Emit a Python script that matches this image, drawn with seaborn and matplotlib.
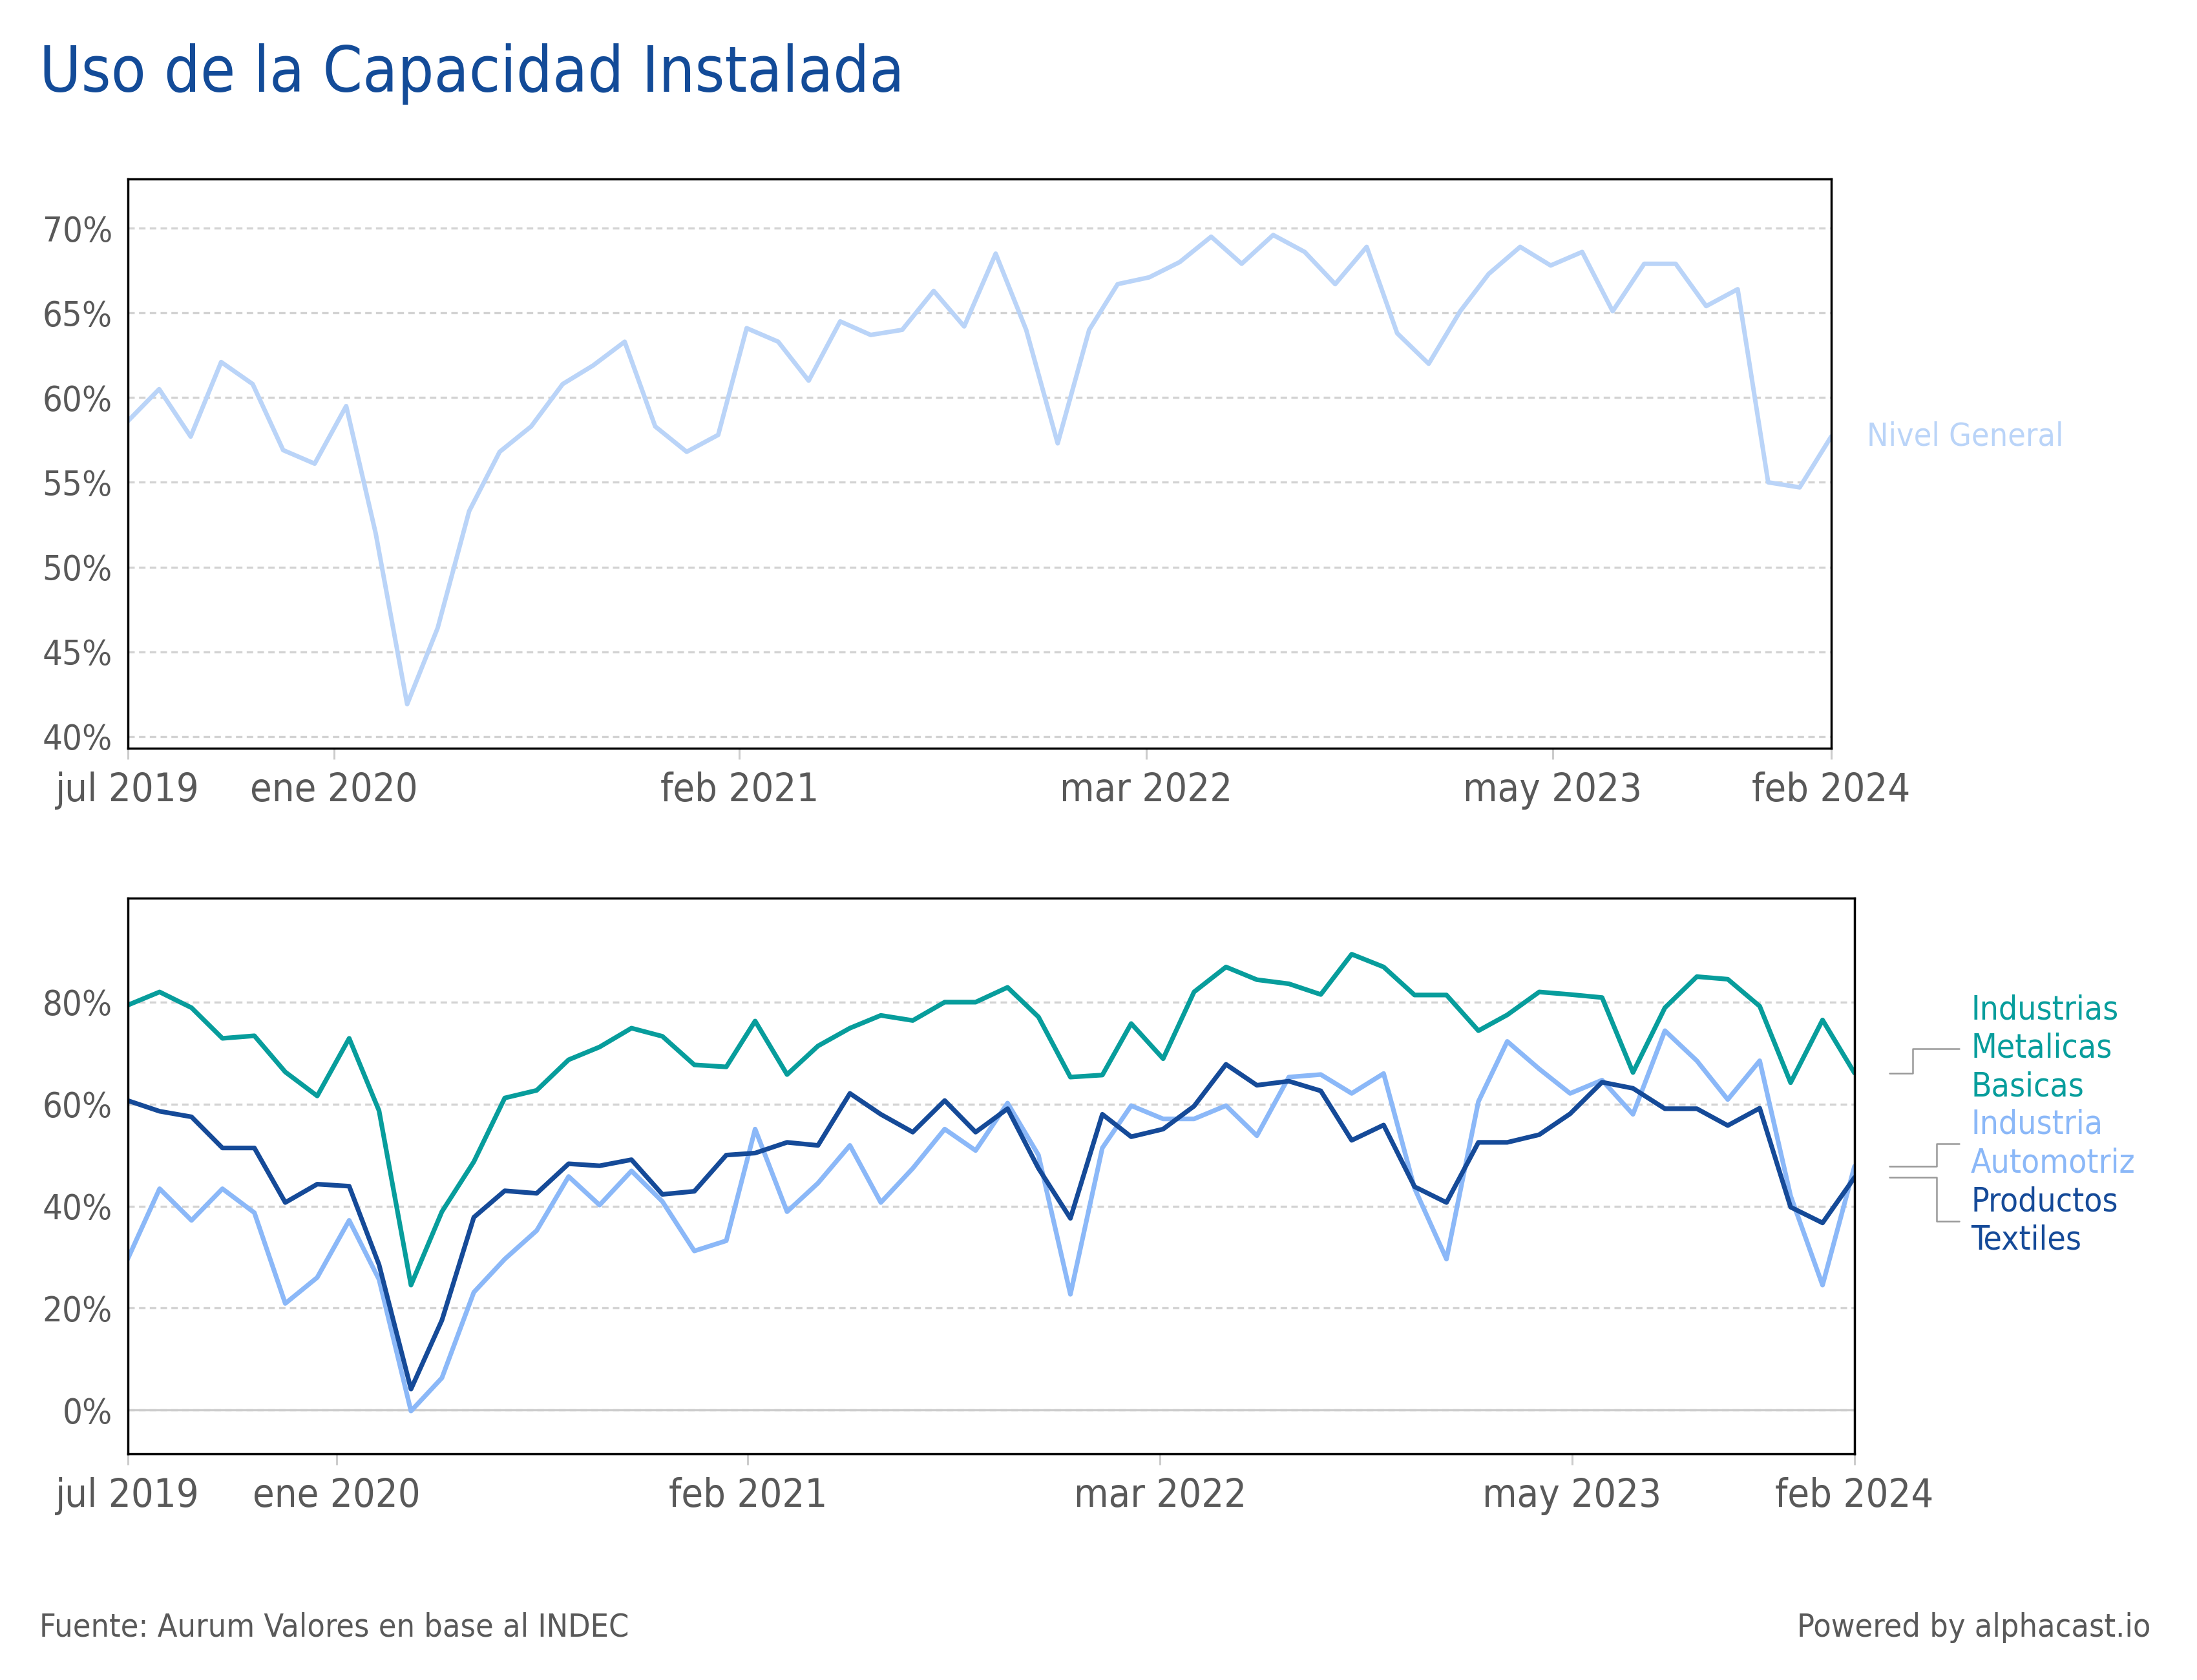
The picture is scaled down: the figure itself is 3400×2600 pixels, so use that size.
import numpy as np
import pandas as pd
import matplotlib
matplotlib.use("Agg")
import matplotlib.pyplot as plt
import matplotlib.transforms as mtransforms
import seaborn as sns

# Data ######################################################################

meses = pd.date_range("2019-07-01", "2024-02-01", freq="MS")

nivel_general = [58.6, 60.5, 57.7, 62.1, 60.8, 56.9, 56.1, 59.5, 52.0, 41.9,
                 46.4, 53.3, 56.8, 58.3, 60.8, 61.9, 63.3, 58.3, 56.8, 57.8,
                 64.1, 63.3, 61.0, 64.5, 63.7, 64.0, 66.3, 64.2, 68.5, 64.0,
                 57.3, 64.0, 66.7, 67.1, 68.0, 69.5, 67.9, 69.6, 68.6, 66.7,
                 68.9, 63.8, 62.0, 65.1, 67.3, 68.9, 67.8, 68.6, 65.1, 67.9,
                 67.9, 65.4, 66.4, 55.0, 54.7, 57.7]

metalicas = [79.4, 82.0, 78.9, 72.9, 73.4, 66.3, 61.6, 72.9, 58.7, 24.5,
             38.9, 48.7, 61.2, 62.7, 68.7, 71.2, 74.9, 73.3, 67.7, 67.3,
             76.3, 65.8, 71.4, 74.9, 77.4, 76.4, 80.0, 80.0, 82.9, 77.1,
             65.3, 65.7, 75.8, 68.9, 82.0, 86.9, 84.4, 83.6, 81.5, 89.4,
             86.9, 81.4, 81.4, 74.4, 77.5, 82.0, 81.5, 80.9, 66.2, 78.9,
             85.0, 84.5, 79.2, 64.2, 76.5, 66.1]

automotriz = [29.6, 43.4, 37.2, 43.4, 38.7, 20.9, 26.0, 37.2, 25.6, -0.2,
              6.3, 23.1, 29.6, 35.2, 45.8, 40.2, 46.9, 40.9, 31.2, 33.2,
              55.1, 38.9, 44.5, 51.9, 40.7, 47.4, 55.1, 50.9, 60.2, 50.0,
              22.7, 51.4, 59.7, 57.1, 57.1, 59.7, 53.8, 65.3, 65.8, 62.1,
              66.0, 43.5, 29.6, 60.5, 72.3, 66.9, 62.1, 64.7, 58.0, 74.4,
              68.5, 60.9, 68.5, 42.0, 24.5, 47.8]

textiles = [60.7, 58.6, 57.5, 51.4, 51.4, 40.7, 44.3, 43.9, 28.5, 4.1,
            17.6, 37.8, 43.0, 42.5, 48.3, 47.9, 49.1, 42.3, 42.9, 50.0,
            50.4, 52.5, 51.9, 62.1, 58.0, 54.5, 60.7, 54.5, 59.1, 47.4,
            37.6, 58.0, 53.6, 55.1, 59.6, 67.8, 63.7, 64.5, 62.6, 52.9,
            55.9, 43.8, 40.7, 52.5, 52.5, 54.0, 58.1, 64.3, 63.1, 59.1,
            59.1, 55.8, 59.2, 39.8, 36.7, 45.6]

series = ["Industrias Metalicas Basicas", "Industria Automotriz", "Productos Textiles"]

tick_fechas = pd.to_datetime(["2019-07-01", "2020-01-20", "2021-02-22",
                              "2022-03-29", "2023-05-03", "2024-02-01"])
tick_labels = ["jul 2019", "ene 2020", "feb 2021", "mar 2022", "may 2023", "feb 2024"]

yticks_top = [40, 45, 50, 55, 60, 65, 70]
yticks_bottom = [0, 20, 40, 60, 80]

# Style #####################################################################

C_TOP = "#bad4f8"
palette = {series[0]: "#079d9c", series[1]: "#8bb8f8", series[2]: "#154a98"}
GRAY = "#595959"
GRID = "#d3d3d3"

sns.set_theme(style="white")
plt.rcParams["font.family"] = ["DejaVu Sans"]
plt.rcParams["font.stretch"] = "condensed"

fig = plt.figure(figsize=(17, 13), dpi=200)
ax1 = fig.add_axes([0.0581, 0.5546, 0.7754, 0.3388])
ax2 = fig.add_axes([0.0581, 0.1346, 0.7860, 0.3308])

# Top panel: Nivel General
top = pd.DataFrame({"fecha": meses, "valor": nivel_general})
sns.lineplot(data=top, x="fecha", y="valor", color=C_TOP, linewidth=2.5, ax=ax1)

# Bottom panel: three sectors
bottom = pd.DataFrame({
    "fecha": np.tile(meses, 3),
    "serie": np.repeat(series, len(meses)),
    "valor": metalicas + automotriz + textiles,
})
sns.lineplot(data=bottom, x="fecha", y="valor", hue="serie", hue_order=series,
             palette=palette, linewidth=2.6, ax=ax2, legend=False)

for ax, yt, ylim in [(ax1, yticks_top, (39.3, 72.9)), (ax2, yticks_bottom, (-8.6, 100.4))]:
    ax.set_xlim(meses[0], meses[-1])
    ax.set_ylim(*ylim)
    ax.set_yticks(yt)
    ax.set_yticklabels([f"{v}%" for v in yt])
    ax.set_xticks(tick_fechas)
    ax.set_xticklabels(tick_labels)
    ax.set_xlabel("")
    ax.set_ylabel("")
    ax.grid(axis="y", color=GRID, lw=1.2, linestyle=(0, (3, 2)))
    ax.grid(axis="x", visible=False)
    ax.set_axisbelow(True)
    for s in ax.spines.values():
        s.set_color("black")
        s.set_linewidth(1.25)
    ax.tick_params(axis="x", length=6, width=1.1, color="#cccccc", direction="out",
                   pad=7, labelsize=22, labelcolor=GRAY, bottom=True)
    ax.tick_params(axis="y", length=0, pad=8.5, labelsize=19.5, labelcolor=GRAY)

ax2.axhline(0, color="#cccccc", lw=1.2, zorder=1)

# Direct labels ##############################################################

ax1.text(1.0209, nivel_general[-1], "Nivel General", color=C_TOP, fontsize=18,
         va="center", ha="left", transform=mtransforms.blended_transform_factory(
             ax1.transAxes, ax1.transData))

trans2 = mtransforms.blended_transform_factory(ax2.transAxes, ax2.transData)
etiquetas = [
    (["Industrias", "Metalicas", "Basicas"], metalicas[-1], 70.9, 1.0337, palette[series[0]]),
    (["Industria", "Automotriz"], automotriz[-1], 52.2, 1.0475, palette[series[1]]),
    (["Productos", "Textiles"], textiles[-1], 37.0, 1.0475, palette[series[2]]),
]
line_h = 21.4  # points between label lines
for lineas, v_last, y_lab, x_mid, col in etiquetas:
    ax2.plot([1.0204, x_mid, x_mid, 1.0608], [v_last, v_last, y_lab, y_lab],
             transform=trans2, clip_on=False, color="#999999", lw=0.9)
    n = len(lineas)
    for i, t in enumerate(lineas):
        dy = ((n - 1) / 2 - i) * line_h
        ax2.annotate(t, xy=(1.0674, y_lab), xycoords=trans2, xytext=(0, dy),
                     textcoords="offset points", va="center", ha="left",
                     color=col, fontsize=18.5, annotation_clip=False)

# Title and footer ###########################################################

fig.text(0.018, 0.9454, "Uso de la Capacidad Instalada", color="#134b98",
         fontsize=35.4, va="baseline", ha="left")
fig.text(0.018, 0.0258, "Fuente: Aurum Valores en base al INDEC", color=GRAY,
         fontsize=18, va="baseline", ha="left")
fig.text(0.979, 0.0258, "Powered by alphacast.io", color=GRAY,
         fontsize=18, va="baseline", ha="right")

fig.savefig("out.png", dpi=200)
